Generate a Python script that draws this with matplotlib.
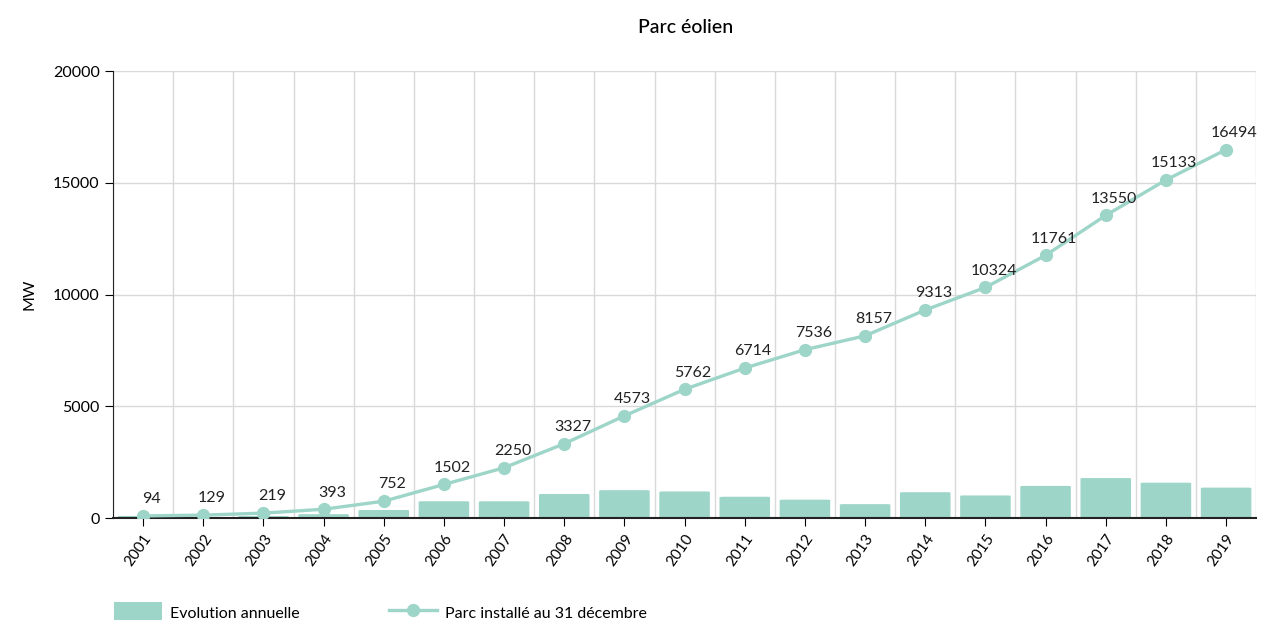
import matplotlib
matplotlib.use("Agg")
from matplotlib import pyplot as plt
from matplotlib.patches import FancyBboxPatch, Patch
from matplotlib.lines import Line2D

years = [2001, 2002, 2003, 2004, 2005, 2006, 2007, 2008, 2009, 2010,
         2011, 2012, 2013, 2014, 2015, 2016, 2017, 2018, 2019]
parc = [94, 129, 219, 393, 752, 1502, 2250, 3327, 4573, 5762,
        6714, 7536, 8157, 9313, 10324, 11761, 13550, 15133, 16494]
evolution = [94, 35, 90, 174, 359, 750, 748, 1077, 1246, 1189,
             952, 822, 621, 1156, 1011, 1437, 1789, 1583, 1361]

col = '#9dd5c8'
plt.rcParams['font.family'] = ['Lato', 'DejaVu Sans']

fig = plt.figure(figsize=(12.74, 6.2), dpi=100)
ax = fig.add_axes([0.0887, 0.1645, 0.8973, 0.7205])

x = list(range(len(years)))
bars = ax.bar(x, evolution, width=0.84, color=col, zorder=2)
# rounded tops
for b in bars:
    b.set_visible(False)
    p = FancyBboxPatch((b.get_x(), 0), b.get_width(), b.get_height(),
                       boxstyle="round,pad=0,rounding_size=0.06",
                       mutation_aspect=400, facecolor=col, edgecolor='none', zorder=2)
    ax.add_patch(p)

ax.plot(x, parc, color=col, lw=2.4, marker='o', markersize=8.5, zorder=3)
for xi, v in zip(x, parc):
    ax.annotate(str(v), (xi, v), xytext=(6, 7), textcoords='offset points',
                ha='center', va='bottom', fontsize=11.5, color='#222222')

ax.set_xlim(-0.5, len(years) - 0.5)
ax.set_ylim(0, 20000)
ax.set_yticks([0, 5000, 10000, 15000, 20000])
ax.set_xticks(x)
ax.set_xticklabels([str(y) for y in years], rotation=55, ha='right',
                   rotation_mode='anchor', fontsize=11)
ax.tick_params(axis='y', labelsize=11.5, length=6)
ax.tick_params(axis='x', length=6)
ax.set_xticks([i - 0.5 for i in range(len(years) + 1)], minor=True)
ax.grid(True, which='minor', axis='x', color='#d9d9d9', lw=1, zorder=0)
ax.grid(True, which='major', axis='y', color='#d9d9d9', lw=1, zorder=0)
ax.tick_params(axis='x', which='minor', length=0)
for s in ['top', 'right']:
    ax.spines[s].set_visible(False)
ax.spines['left'].set_color('#222222')
ax.spines['bottom'].set_color('#222222')
ax.spines['bottom'].set_linewidth(1.5)
ax.set_ylabel('MW', fontsize=11.5, labelpad=12)

fig.text(0.538, 0.955, 'Parc éolien', ha='center', va='center', fontsize=14,
         fontweight='medium')

handles = [Patch(facecolor=col, edgecolor='none'),
           Line2D([], [], color=col, lw=2.4, marker='o', markersize=8.5)]
fig.legend(handles, ['Evolution annuelle', 'Parc installé au 31 décembre'],
           loc='lower left', bbox_to_anchor=(0.078, -0.03), ncol=2, frameon=False,
           fontsize=11.5, handlelength=3.0, handleheight=1.8, handletextpad=0.5,
           columnspacing=5.6)

fig.savefig('out.png', dpi=100)
